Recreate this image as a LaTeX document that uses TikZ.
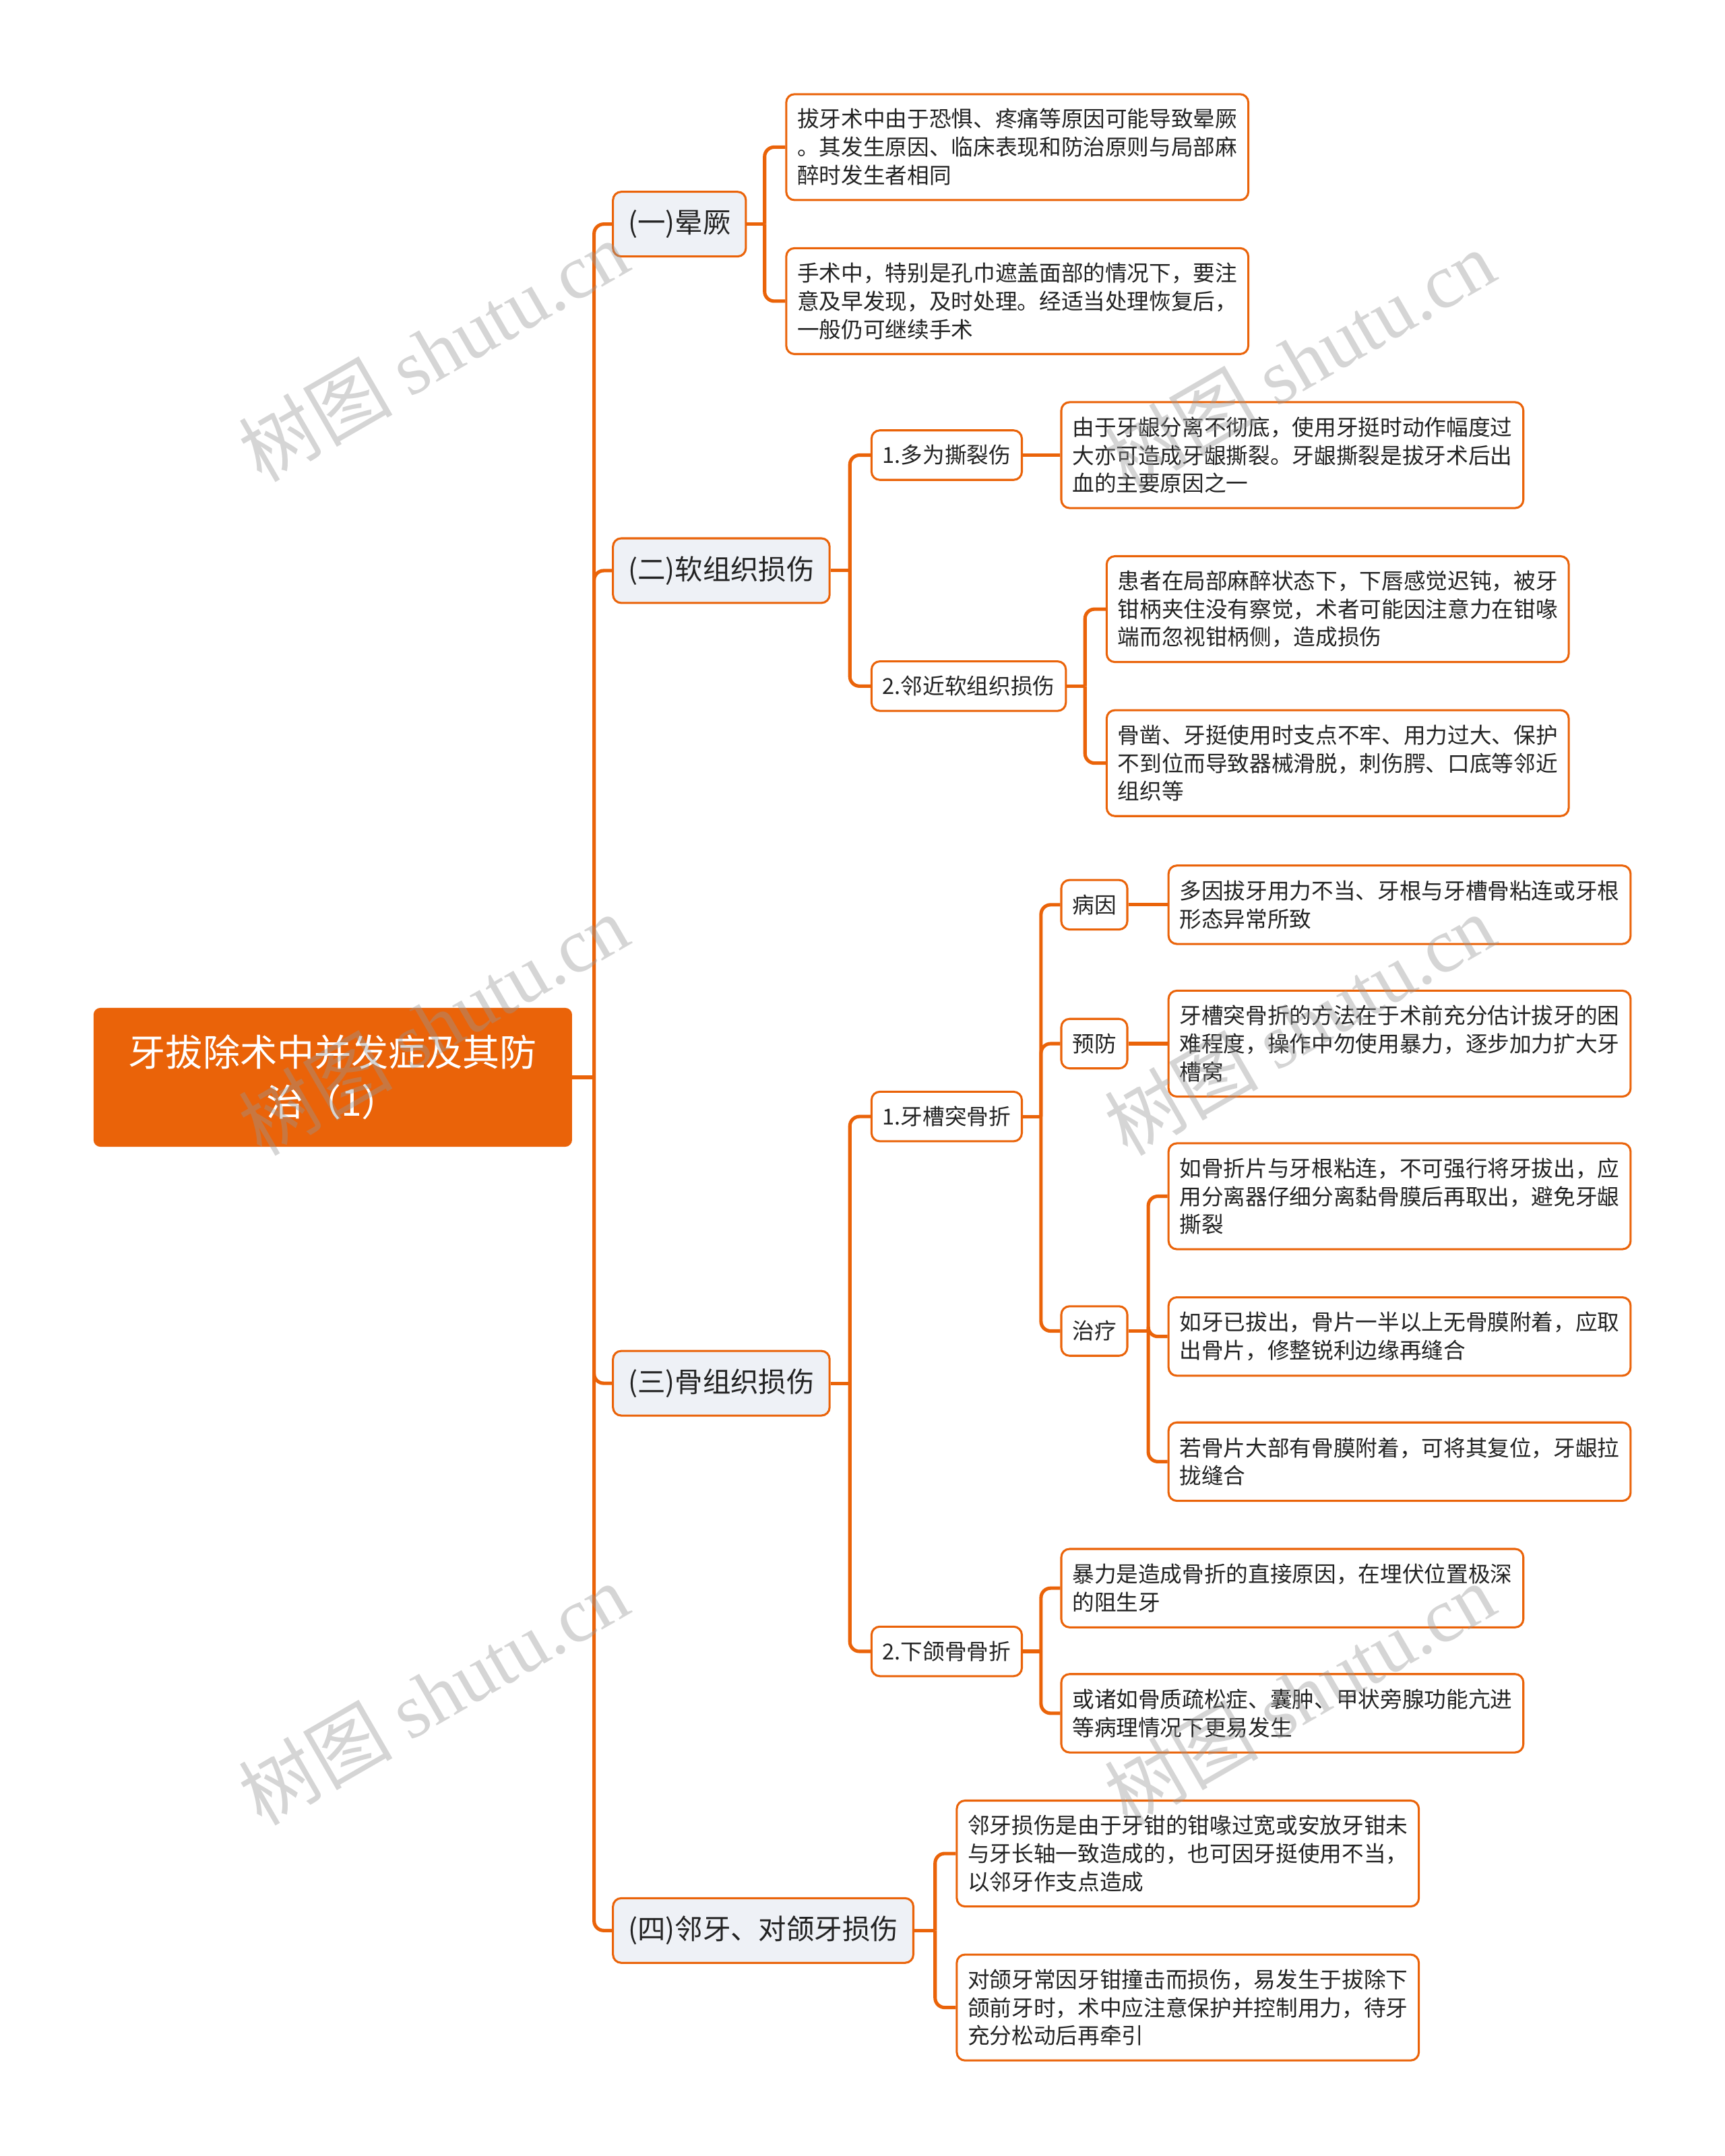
\documentclass[tikz,border=0pt]{standalone}
\usepackage{fontspec}
\setmainfont{Noto Sans CJK SC}
\newfontfamily\wmlatin{Liberation Serif}
\usetikzlibrary{calc}
\definecolor{orgc}{RGB}{234,99,9}
\definecolor{lvfill}{RGB}{238,241,246}
\definecolor{txt}{RGB}{35,35,35}
\definecolor{wmc}{RGB}{150,150,150}
\tikzset{
  conn/.style={draw=orgc, line width=2.5pt, rounded corners=7pt},
  rootbox/.style={fill=orgc, draw=none, rounded corners=5pt, text=white,
    font=\fontsize{27}{36}\selectfont, align=center, minimum width=348pt,
    minimum height=101pt, inner sep=0pt},
  lvone/.style={fill=lvfill, draw=orgc, line width=1.5pt, rounded corners=6pt,
    font=\fontsize{20.3}{24}\selectfont, text=txt, minimum height=47pt,
    inner xsep=11pt, inner ysep=0pt, anchor=west},
  lvtwo/.style={fill=white, draw=orgc, line width=1.5pt, rounded corners=6pt,
    font=\fontsize{16}{20}\selectfont, text=txt, minimum height=36pt,
    inner xsep=8pt, inner ysep=0pt, anchor=west},
  leaf/.style={fill=white, draw=orgc, line width=1.5pt, rounded corners=6pt,
    font=\fontsize{16}{20.5}\selectfont, text=txt, text width=320pt, align=left,
    inner xsep=8pt, inner ysep=0pt, anchor=west},
  leafthree/.style={leaf, minimum height=77pt},
  leaftwo/.style={leaf, minimum height=57pt},
  wm/.style={text=wmc, opacity=0.4, font=\fontsize{56}{60}\selectfont, rotate=30, inner sep=0pt},
}
\begin{document}
\begin{tikzpicture}[x=1pt, y=-1pt]
\useasboundingbox (0,0) rectangle (1254,1568);
\fill[white] (0,0) rectangle (1254,1568);

% root
\node[rootbox] (root) at (242,783.5) {牙拔除术中并发症及其防\\治（1）};

% level 1
\node[lvone] (La) at (445,163) {(一)晕厥};
\node[lvone] (Lb) at (445,415) {(二)软组织损伤};
\node[lvone] (Lc) at (445,1006) {(三)骨组织损伤};
\node[lvone] (Ld) at (445,1404) {(四)邻牙、对颌牙损伤};

% (一)
\node[leafthree] (Aa) at (571,107) {拔牙术中由于恐惧、疼痛等原因可能导致晕厥\\。其发生原因、临床表现和防治原则与局部麻\\醉时发生者相同};
\node[leafthree] (Ab) at (571,219) {手术中，特别是孔巾遮盖面部的情况下，要注\\意及早发现，及时处理。经适当处理恢复后，\\一般仍可继续手术};

% (二)
\node[lvtwo] (Ba) at (633,331) {1.多为撕裂伤};
\node[leafthree] (Baa) at (771,331) {由于牙龈分离不彻底，使用牙挺时动作幅度过\\大亦可造成牙龈撕裂。牙龈撕裂是拔牙术后出\\血的主要原因之一};
\node[lvtwo] (Bb) at (633,499) {2.邻近软组织损伤};
\node[leafthree] (Bba) at (804,443) {患者在局部麻醉状态下，下唇感觉迟钝，被牙\\钳柄夹住没有察觉，术者可能因注意力在钳喙\\端而忽视钳柄侧，造成损伤};
\node[leafthree] (Bbb) at (804,555) {骨凿、牙挺使用时支点不牢、用力过大、保护\\不到位而导致器械滑脱，刺伤腭、口底等邻近\\组织等};

% (三)
\node[lvtwo] (Ca) at (633,812) {1.牙槽突骨折};
\node[lvtwo] (Caa) at (771,658) {病因};
\node[leaftwo] (Caaa) at (849,658) {多因拔牙用力不当、牙根与牙槽骨粘连或牙根\\形态异常所致};
\node[lvtwo] (Cab) at (771,759) {预防};
\node[leafthree] (Caba) at (849,759) {牙槽突骨折的方法在于术前充分估计拔牙的困\\难程度，操作中勿使用暴力，逐步加力扩大牙\\槽窝};
\node[lvtwo] (Cac) at (771,968) {治疗};
\node[leafthree] (Caca) at (849,870) {如骨折片与牙根粘连，不可强行将牙拔出，应\\用分离器仔细分离黏骨膜后再取出，避免牙龈\\撕裂};
\node[leaftwo] (Cacb) at (849,972) {如牙已拔出，骨片一半以上无骨膜附着，应取\\出骨片，修整锐利边缘再缝合};
\node[leaftwo] (Cacc) at (849,1063) {若骨片大部有骨膜附着，可将其复位，牙龈拉\\拢缝合};
\node[lvtwo] (Cb) at (633,1201) {2.下颌骨骨折};
\node[leaftwo] (Cba) at (771,1155) {暴力是造成骨折的直接原因，在埋伏位置极深\\的阻生牙};
\node[leaftwo] (Cbb) at (771,1246) {或诸如骨质疏松症、囊肿、甲状旁腺功能亢进\\等病理情况下更易发生};

% (四)
\node[leafthree] (Da) at (695,1348) {邻牙损伤是由于牙钳的钳喙过宽或安放牙钳未\\与牙长轴一致造成的，也可因牙挺使用不当，\\以邻牙作支点造成};
\node[leafthree] (Db) at (695,1460) {对颌牙常因牙钳撞击而损伤，易发生于拔除下\\颌前牙时，术中应注意保护并控制用力，待牙\\充分松动后再牵引};

% junctions
\coordinate (jr) at (432,783.5);
\coordinate (ja) at (556,163);
\coordinate (jb) at (618,415);
\coordinate (jbb) at (789,499);
\coordinate (jc) at (618,1006);
\coordinate (jca) at (757,812);
\coordinate (jcac) at (835,968);
\coordinate (jcb) at (757,1201);
\coordinate (jd) at (680,1404);

% connectors
\draw[conn] (root.east) -- (jr);
\foreach \c in {La,Lb,Lc,Ld} \draw[conn] (jr) |- (\c.west);
\draw[conn] (La.east) -- (ja);
\foreach \c in {Aa,Ab} \draw[conn] (ja) |- (\c.west);
\draw[conn] (Lb.east) -- (jb);
\foreach \c in {Ba,Bb} \draw[conn] (jb) |- (\c.west);
\draw[conn] (Ba.east) -- (Baa.west);
\draw[conn] (Bb.east) -- (jbb);
\foreach \c in {Bba,Bbb} \draw[conn] (jbb) |- (\c.west);
\draw[conn] (Lc.east) -- (jc);
\foreach \c in {Ca,Cb} \draw[conn] (jc) |- (\c.west);
\draw[conn] (Ca.east) -- (jca);
\foreach \c in {Caa,Cab,Cac} \draw[conn] (jca) |- (\c.west);
\draw[conn] (Caa.east) -- (Caaa.west);
\draw[conn] (Cab.east) -- (Caba.west);
\draw[conn] (Cac.east) -- (jcac);
\foreach \c in {Caca,Cacb,Cacc} \draw[conn] (jcac) |- (\c.west);
\draw[conn] (Cb.east) -- (jcb);
\foreach \c in {Cba,Cbb} \draw[conn] (jcb) |- (\c.west);
\draw[conn] (Ld.east) -- (jd);
\foreach \c in {Da,Db} \draw[conn] (jd) |- (\c.west);

% watermarks
\node[wm] (w1) at (315,255) {树图 {\wmlatin shutu.cn}};
\node[wm] (w2) at (945,262) {树图 {\wmlatin shutu.cn}};
\node[wm] (w3) at (315,745) {树图 {\wmlatin shutu.cn}};
\node[wm] (w4) at (945,745) {树图 {\wmlatin shutu.cn}};
\node[wm] (w5) at (315,1232) {树图 {\wmlatin shutu.cn}};
\node[wm] (w6) at (945,1232) {树图 {\wmlatin shutu.cn}};
\end{tikzpicture}
\end{document}
